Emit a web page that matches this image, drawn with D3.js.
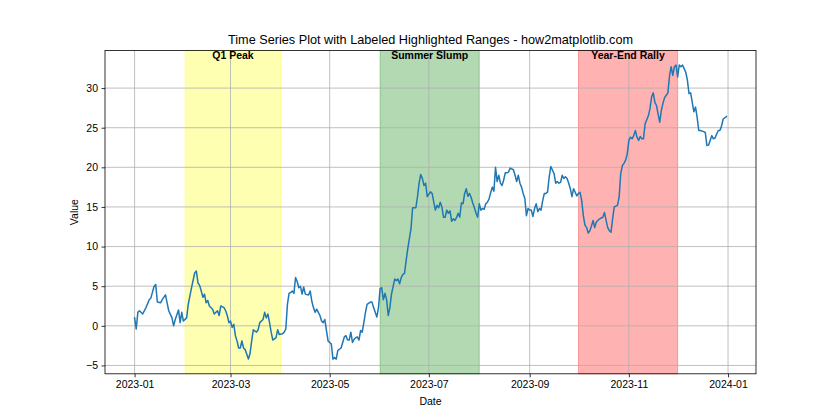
<!DOCTYPE html>
<html>
<head>
<meta charset="utf-8">
<script src="https://cdn.jsdelivr.net/npm/d3@7"></script>
<style>
  html, body { margin: 0; padding: 0; background: #fff; }
  svg { display: block; font-family: "Liberation Sans", Arial, sans-serif; }
</style>
</head>
<body>
<svg id="chart" width="840" height="420"></svg>
<script>
// ---- data ----
const dates = [
"2023-01-01","2023-01-02","2023-01-03","2023-01-04","2023-01-06","2023-01-07","2023-01-08","2023-01-10","2023-01-11","2023-01-13",
"2023-01-14","2023-01-15","2023-01-17","2023-01-18","2023-01-20","2023-01-21","2023-01-22","2023-01-24","2023-01-25","2023-01-26",
"2023-01-28","2023-01-29","2023-01-30","2023-01-31","2023-02-02","2023-02-03","2023-02-05","2023-02-07","2023-02-08","2023-02-09",
"2023-02-10","2023-02-11","2023-02-12","2023-02-13","2023-02-14","2023-02-15","2023-02-16","2023-02-18","2023-02-19","2023-02-21",
"2023-02-22","2023-02-23","2023-02-25","2023-02-26","2023-02-27","2023-02-28","2023-03-01","2023-03-02","2023-03-03","2023-03-04",
"2023-03-05","2023-03-06","2023-03-07","2023-03-08","2023-03-09","2023-03-10","2023-03-12","2023-03-13","2023-03-14","2023-03-15",
"2023-03-17","2023-03-18","2023-03-19","2023-03-21","2023-03-22","2023-03-23","2023-03-24","2023-03-25","2023-03-26","2023-03-27",
"2023-03-29","2023-03-30","2023-03-31","2023-04-02","2023-04-03","2023-04-04","2023-04-05","2023-04-06","2023-04-07","2023-04-08",
"2023-04-09","2023-04-10","2023-04-11","2023-04-12","2023-04-13","2023-04-14","2023-04-15","2023-04-16","2023-04-18","2023-04-19",
"2023-04-20","2023-04-21","2023-04-22","2023-04-23","2023-04-24","2023-04-25","2023-04-26","2023-04-27","2023-04-28","2023-04-29",
"2023-04-30","2023-05-01","2023-05-02","2023-05-03","2023-05-04","2023-05-05","2023-05-06","2023-05-08","2023-05-09","2023-05-10",
"2023-05-11","2023-05-12","2023-05-13","2023-05-14","2023-05-15","2023-05-16","2023-05-17","2023-05-18","2023-05-19","2023-05-20",
"2023-05-21","2023-05-22","2023-05-23","2023-05-24","2023-05-26","2023-05-27","2023-05-28","2023-05-29","2023-05-30","2023-05-31",
"2023-06-01","2023-06-02","2023-06-03","2023-06-04","2023-06-05","2023-06-06","2023-06-07","2023-06-08","2023-06-10","2023-06-11",
"2023-06-12","2023-06-13","2023-06-14","2023-06-15","2023-06-16","2023-06-17","2023-06-18","2023-06-19","2023-06-20","2023-06-21",
"2023-06-23","2023-06-24","2023-06-25","2023-06-26","2023-06-27","2023-06-28","2023-06-29","2023-06-30","2023-07-02","2023-07-03",
"2023-07-04","2023-07-05","2023-07-06","2023-07-07","2023-07-08","2023-07-09","2023-07-10","2023-07-11","2023-07-12","2023-07-13",
"2023-07-14","2023-07-15","2023-07-16","2023-07-17","2023-07-18","2023-07-19","2023-07-20","2023-07-21","2023-07-22","2023-07-23",
"2023-07-24","2023-07-25","2023-07-26","2023-07-27","2023-07-28","2023-07-29","2023-07-30","2023-07-31","2023-08-01","2023-08-02",
"2023-08-03","2023-08-04","2023-08-05","2023-08-06","2023-08-07","2023-08-08","2023-08-09","2023-08-10","2023-08-11","2023-08-12",
"2023-08-13","2023-08-14","2023-08-15","2023-08-16","2023-08-17","2023-08-18","2023-08-19","2023-08-20","2023-08-22","2023-08-23",
"2023-08-24","2023-08-25","2023-08-26","2023-08-27","2023-08-28","2023-08-29","2023-08-30","2023-08-31","2023-09-01","2023-09-02",
"2023-09-03","2023-09-04","2023-09-05","2023-09-06","2023-09-07","2023-09-08","2023-09-09","2023-09-10","2023-09-11","2023-09-12",
"2023-09-13","2023-09-14","2023-09-16","2023-09-17","2023-09-18","2023-09-19","2023-09-20","2023-09-21","2023-09-22","2023-09-23",
"2023-09-24","2023-09-25","2023-09-26","2023-09-27","2023-09-28","2023-09-29","2023-09-30","2023-10-01","2023-10-02","2023-10-03",
"2023-10-04","2023-10-05","2023-10-06","2023-10-07","2023-10-08","2023-10-09","2023-10-10","2023-10-11","2023-10-12","2023-10-14",
"2023-10-15","2023-10-16","2023-10-17","2023-10-18","2023-10-19","2023-10-20","2023-10-21","2023-10-22","2023-10-23","2023-10-25",
"2023-10-26","2023-10-27","2023-10-28","2023-10-29","2023-10-30","2023-10-31","2023-11-01","2023-11-02","2023-11-03","2023-11-04",
"2023-11-05","2023-11-06","2023-11-07","2023-11-08","2023-11-09","2023-11-10","2023-11-11","2023-11-13","2023-11-14","2023-11-15",
"2023-11-16","2023-11-17","2023-11-18","2023-11-19","2023-11-20","2023-11-21","2023-11-22","2023-11-23","2023-11-24","2023-11-25",
"2023-11-26","2023-11-27","2023-11-28","2023-11-29","2023-11-30","2023-12-01","2023-12-02","2023-12-03","2023-12-04","2023-12-05",
"2023-12-06","2023-12-07","2023-12-08","2023-12-09","2023-12-10","2023-12-11","2023-12-12","2023-12-13","2023-12-14","2023-12-15",
"2023-12-17","2023-12-18","2023-12-19","2023-12-20","2023-12-21","2023-12-22","2023-12-23","2023-12-24","2023-12-25","2023-12-26",
"2023-12-27","2023-12-28","2023-12-29","2023-12-31"
];
const values = [
1.0,-0.4,1.7,1.9,1.5,1.9,2.3,3.3,3.5,5.0,
5.2,3.0,2.9,3.3,3.9,2.9,1.9,1.0,0.0,0.8,
2.0,0.4,1.7,0.6,1.0,2.7,4.8,6.7,6.9,5.4,
5.1,4.4,3.6,4.0,2.9,3.2,2.5,2.1,1.5,1.9,
1.3,2.5,2.3,1.9,1.3,0.4,0.6,-0.2,0.2,-1.25,
-1.9,-2.8,-2.8,-1.9,-2.8,-3.0,-4.2,-3.5,-1.9,-0.5,
-0.8,-0.5,0.4,0.8,1.7,1.0,1.5,0.4,-0.8,-1.8,
-1.5,-0.5,-1.1,-1.0,-0.8,-0.4,2.7,4.1,4.2,4.4,
4.1,6.1,5.6,4.8,5.0,4.0,4.9,4.0,3.9,4.4,
3.1,2.3,1.7,2.1,1.7,1.3,0.6,0.4,0.8,-0.6,
-1.9,-2.1,-2.3,-4.2,-4.0,-4.2,-3.1,-2.8,-2.1,-1.4,
-1.25,-1.8,-1.8,-0.8,-2.1,-1.7,-1.5,-1.4,-1.8,-0.6,
-0.8,0.4,1.7,2.7,3.0,3.0,2.3,1.7,1.1,2.3,
4.7,4.8,3.3,4.1,3.3,1.3,2.3,4.0,5.9,5.7,
5.9,5.3,6.1,6.5,6.6,8.2,9.7,11.0,12.25,14.9,
14.9,16.3,18.0,19.1,18.6,17.7,18.0,16.3,16.9,16.7,
15.6,14.6,15.2,14.9,15.6,15.0,13.7,13.7,14.6,14.2,
14.5,13.2,13.5,13.3,13.65,14.2,13.7,15.5,15.4,16.7,
17.3,16.35,16.7,16.2,15.5,14.9,14.2,13.7,15.4,14.6,
14.8,14.7,15.4,15.6,16.0,16.8,17.5,17.0,20.0,18.2,
19.0,18.0,17.7,18.4,19.3,19.3,19.4,19.9,19.7,19.0,
18.2,19.0,18.0,17.5,16.7,16.1,13.9,14.8,14.6,14.6,
13.8,14.8,15.4,14.4,14.8,14.6,15.8,16.7,16.7,16.9,
18.8,20.1,19.2,18.0,18.2,18.0,18.1,19.0,18.6,18.8,
18.6,18.0,17.3,16.3,17.3,16.85,16.4,16.7,16.85,15.8,
13.9,12.7,12.4,11.7,12.0,12.6,13.3,12.4,13.1,13.5,
13.6,13.7,14.3,13.3,12.4,12.0,11.8,13.5,15.0,15.2,
16.2,19.2,20.2,20.5,20.9,21.7,23.4,23.8,23.6,24.0,
24.65,23.8,23.4,23.9,23.6,23.6,25.5,26.5,27.4,28.9,
29.4,28.2,27.8,26.7,25.7,27.2,28.1,28.8,29.1,29.4,
31.5,32.7,31.6,32.7,32.9,31.4,32.9,32.7,32.9,32.45,
32.0,31.0,29.3,29.4,28.2,27.0,27.6,26.3,24.65,24.65,
24.5,24.4,22.75,22.8,23.4,24.0,23.6,23.7,24.2,24.65,
24.65,25.2,26.1,26.4
];
const rangeStarts = ["2023-02-01", "2023-06-01", "2023-10-01"];
const rangeEnds   = ["2023-04-01", "2023-08-01", "2023-12-01"];
const rangeLabels = ["Q1 Peak", "Summer Slump", "Year-End Rally"];
const rangeColors = ["yellow", "green", "red"];
const yTicks = [-5, 0, 5, 10, 15, 20, 25, 30];
const xTickDates = ["2023-01-01","2023-03-01","2023-05-01","2023-07-01","2023-09-01","2023-11-01","2024-01-01"];

// ---- layout ----
const W = 840, H = 420;
const m = { left: 105, right: 84, top: 50.4, bottom: 46.2 };
const pw = W - m.left - m.right, ph = H - m.top - m.bottom;
const parse = d3.utcParse("%Y-%m-%d");
const data = dates.map((d, i) => ({ date: parse(d), value: values[i] }));
const FONT = "'Liberation Sans', Arial, sans-serif";
const tickFs = 10.5, labelFs = 10.5, titleFs = 12.7, spanFs = 10.5;

const svg = d3.select("#chart");
const g = svg.append("g").attr("transform", `translate(${m.left},${m.top})`);

const [x0, x1] = d3.extent(data, d => d.date);
const xpad = (x1 - x0) * 0.05;
const x = d3.scaleUtc().domain([new Date(+x0 - xpad), new Date(+x1 + xpad)]).range([0, pw]);
const [y0, y1] = d3.extent(values);
const ypad = (y1 - y0) * 0.05;
const y = d3.scaleLinear().domain([y0 - ypad, y1 + ypad]).range([ph, 0]);

// spans
g.selectAll("rect.span").data(rangeStarts).join("rect")
  .attr("class", "span")
  .attr("x", (d) => x(parse(d)))
  .attr("y", 0)
  .attr("width", (d, i) => x(parse(rangeEnds[i])) - x(parse(d)))
  .attr("height", ph)
  .attr("fill", (d, i) => rangeColors[i]).attr("fill-opacity", 0.3)
  .attr("stroke", (d, i) => rangeColors[i]).attr("stroke-opacity", 0.3).attr("stroke-width", 1);

// grid
const gridColor = "#b0b0b0";
g.append("g").selectAll("line").data(xTickDates).join("line")
  .attr("x1", d => x(parse(d))).attr("x2", d => x(parse(d)))
  .attr("y1", 0).attr("y2", ph)
  .attr("stroke", gridColor).attr("stroke-width", 0.8);
g.append("g").selectAll("line").data(yTicks).join("line")
  .attr("x1", 0).attr("x2", pw)
  .attr("y1", d => y(d)).attr("y2", d => y(d))
  .attr("stroke", gridColor).attr("stroke-width", 0.8);

// line
g.append("path").datum(data)
  .attr("fill", "none").attr("stroke", "#1f77b4").attr("stroke-width", 1.5)
  .attr("stroke-linejoin", "round").attr("stroke-linecap", "square")
  .attr("d", d3.line().x(d => x(d.date)).y(d => y(d.value)));

// span labels
g.selectAll("text.spanlabel").data(rangeLabels).join("text")
  .attr("class", "spanlabel")
  .attr("x", (d, i) => (x(parse(rangeStarts[i])) + x(parse(rangeEnds[i]))) / 2)
  .attr("y", 8.5)
  .attr("text-anchor", "middle")
  .attr("font-family", FONT)
  .attr("font-size", spanFs).attr("font-weight", "bold").attr("fill", "#000")
  .text(d => d);

// axes
const xAxis = d3.axisBottom(x).tickValues(xTickDates.map(parse))
  .tickFormat(d3.utcFormat("%Y-%m")).tickSize(3.5).tickPadding(3.5);
const yAxis = d3.axisLeft(y).tickValues(yTicks).tickSize(3.5).tickPadding(3.5);
const gx = g.append("g").attr("transform", `translate(0,${ph})`).call(xAxis);
const gy = g.append("g").call(yAxis);
[gx, gy].forEach(a => {
  a.select(".domain").remove();
  a.selectAll("line").attr("stroke", "#000").attr("stroke-width", 0.8);
  a.selectAll("text").attr("font-size", tickFs).attr("fill", "#000")
    .attr("font-family", FONT);
});

// frame
g.append("rect").attr("x", 0).attr("y", 0).attr("width", pw).attr("height", ph)
  .attr("fill", "none").attr("stroke", "#000").attr("stroke-width", 0.8);

// labels
svg.append("text").attr("x", m.left + pw / 2).attr("y", m.top - 6)
  .attr("text-anchor", "middle").attr("font-size", titleFs).attr("fill", "#000")
  .attr("font-family", FONT)
  .text("Time Series Plot with Labeled Highlighted Ranges - how2matplotlib.com");
svg.append("text").attr("x", m.left + pw / 2).attr("y", 405)
  .attr("text-anchor", "middle").attr("font-size", labelFs).attr("fill", "#000")
  .attr("font-family", FONT)
  .text("Date");
svg.append("text").attr("transform", `translate(78,${m.top + ph / 2}) rotate(-90)`)
  .attr("text-anchor", "middle").attr("font-size", labelFs).attr("fill", "#000")
  .attr("font-family", FONT)
  .text("Value");
</script>
</body>
</html>
